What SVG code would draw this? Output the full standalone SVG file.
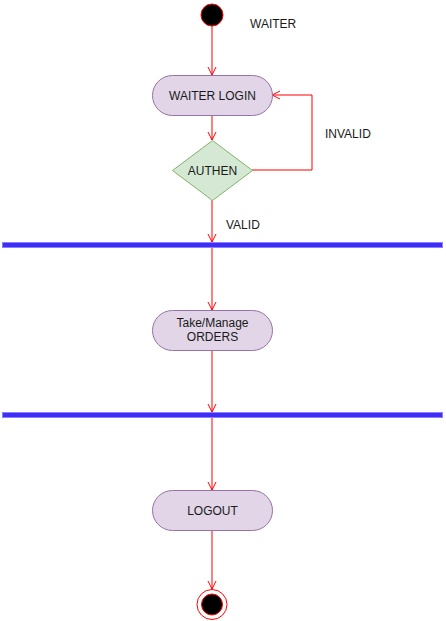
<svg xmlns="http://www.w3.org/2000/svg" width="446" height="621" viewBox="0 0 446 621">
<style>
.act{fill:#e1d5e7;stroke:#9673a6;stroke-width:1}
.dec{fill:#d5e8d4;stroke:#82b366;stroke-width:1}
.bar{fill:#3f2ef8;stroke:#8c82ff;stroke-width:1}
.lbl{font-family:"Liberation Sans",Arial,sans-serif;font-size:12px;fill:#1a1a1a;text-anchor:middle}
.free{font-family:"Liberation Sans",Arial,sans-serif;font-size:12px;fill:#1a1a1a}
.edge{fill:none;stroke:#ff0000;stroke-width:1}
</style>
<defs>
<marker id="open" markerUnits="userSpaceOnUse" markerWidth="12" markerHeight="12" viewBox="0 0 12 12" refX="10" refY="6" orient="auto">
<path d="M2,2 L10,6 L2,10" fill="none" stroke="#ff0000" stroke-width="1"/>
</marker>
</defs>
<rect width="446" height="621" fill="#ffffff"/>
<g id="connectors">
<path class="edge" d="M212,26 L212,75" marker-end="url(#open)"/>
<path class="edge" d="M212,115 L212,140" marker-end="url(#open)"/>
<path class="edge" d="M252,170 L312,170 L312,95 L272,95" marker-end="url(#open)"/>
<path class="edge" d="M212,200 L212,242" marker-end="url(#open)"/>
<path class="edge" d="M212,248 L212,310" marker-end="url(#open)"/>
<path class="edge" d="M212,350 L212,412" marker-end="url(#open)"/>
<path class="edge" d="M212,418 L212,490" marker-end="url(#open)"/>
<path class="edge" d="M212,530 L212,589" marker-end="url(#open)"/>
</g>
<g id="start">
<circle cx="212" cy="15" r="11" fill="#000000" stroke="#ff0000" stroke-width="1"/>
</g>
<g id="label-waiter"><text class="free" x="250" y="28">WAITER</text></g>
<g id="waiter-login">
<rect class="act" x="152.5" y="75.5" width="120" height="40" rx="20" ry="20"/>
<text class="lbl" x="212.5" y="99.5">WAITER LOGIN</text>
</g>
<g id="authen">
<path class="dec" d="M212.5,140.5 L252.5,170.5 L212.5,200.5 L172.5,170.5 Z"/>
<text class="lbl" x="212.5" y="174.5">AUTHEN</text>
</g>
<g id="label-invalid"><text class="free" x="325" y="138">INVALID</text></g>
<g id="label-valid"><text class="free" x="226" y="229">VALID</text></g>
<g id="fork1"><rect class="bar" x="2.5" y="242.5" width="440" height="5"/></g>
<g id="take-orders">
<rect class="act" x="152.5" y="310.5" width="120" height="40" rx="20" ry="20"/>
<text class="lbl" x="212.5" y="327">Take/Manage</text>
<text class="lbl" x="212.5" y="341">ORDERS</text>
</g>
<g id="fork2"><rect class="bar" x="2.5" y="412.5" width="440" height="5"/></g>
<g id="logout">
<rect class="act" x="152.5" y="490.5" width="120" height="40" rx="20" ry="20"/>
<text class="lbl" x="212.5" y="514.5">LOGOUT</text>
</g>
<g id="end">
<circle cx="212" cy="604.5" r="15" fill="#ffffff" stroke="#ff0000" stroke-width="1"/>
<circle cx="212" cy="604.5" r="10.5" fill="#000000" stroke="#ff0000" stroke-width="1"/>
</g>
</svg>
